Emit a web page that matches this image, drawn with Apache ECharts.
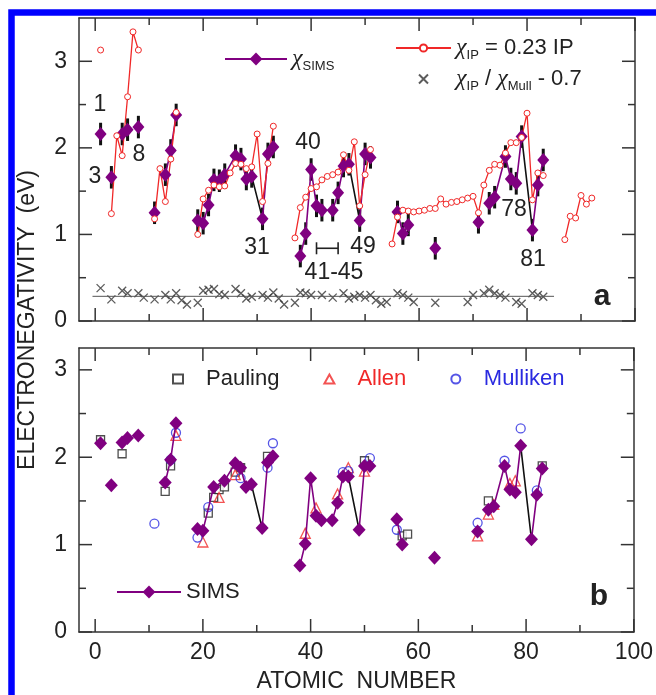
<!DOCTYPE html>
<html><head><meta charset="utf-8">
<script src="https://cdn.jsdelivr.net/npm/echarts@6/dist/echarts.min.js"></script>
<style>html,body{margin:0;padding:0;background:#fff;}#c{width:656px;height:695px;}</style>
</head><body><div id="c"></div>
<script>
// ---------- DATA ----------
// Panel a: SIMS electronegativity (atomic number, value, error)
const simsTopZ = [1,3,5,6,8,11,13,14,15,19,20,21,22,23,24,26,27,28,29,31,32,33,38,39,40,41,42,44,45,46,47,49,50,51,56,57,58,63,71,73,74,76,77,78,79,81,82,83];
const simsTopV = [2.16,1.66,2.16,2.21,2.24,1.25,1.69,1.97,2.38,1.16,1.13,1.34,1.63,1.62,1.69,1.91,1.87,1.64,1.67,1.18,1.93,2.01,0.75,1.01,1.75,1.33,1.28,1.28,1.48,1.79,1.81,1.16,1.93,1.89,1.26,1.01,1.11,0.84,1.14,1.36,1.43,1.90,1.64,1.59,2.13,1.05,1.57,1.86];
const simsTopErr = [0.13,0.13,0.13,0.13,0.13,0.13,0.13,0.13,0.13,0.13,0.13,0.13,0.13,0.13,0.13,0.13,0.13,0.13,0.13,0.13,0.13,0.13,0.13,0.13,0.13,0.13,0.13,0.13,0.13,0.13,0.13,0.13,0.13,0.13,0.13,0.13,0.13,0.13,0.13,0.13,0.13,0.13,0.13,0.13,0.13,0.13,0.13,0.13];
const simsTopPurpleSegs = [[1],[3],[5],[6],[8],[11],[13,14,15],[19,20,21,22,23,24,26,27,28,29],[31,32,33],[38,39,40,41,42,44,45,46,47],[49,50,51],[56,57,58],[63],[71],[73,74,76,77,78,79],[81,82,83]];
const simsBlackSegs = [[29,31],[47,49],[79,81]];

// chi_IP = 0.23 IP
const ipZ = [1, 3,4,5,6,7,8, 11,12,13,14,15, 19,20,21,22,23,24,25,26,27,28,29,30,31,32,33, 37,38,39,40,41,42,43,44,45,46,47,48,49,50,51, 55,56,57,58,59,60,61,62,63,64,65,66,67,68,69,70,71,72,73,74,75,76,77,78,79,80,81,82,83, 87,88,89,90,91,92];
const ipV = [3.13, 1.24,2.14,1.91,2.59,3.34,3.13, 1.18,1.76,1.38,1.87,2.41, 1.00,1.41,1.51,1.57,1.55,1.56,1.71,1.82,1.81,1.76,1.78,2.16,1.38,1.82,2.25, 0.96,1.31,1.43,1.53,1.55,1.63,1.67,1.69,1.72,1.92,1.74,2.07,1.33,1.69,1.98, 0.89,1.20,1.28,1.27,1.26,1.27,1.28,1.30,1.30,1.41,1.35,1.37,1.38,1.40,1.42,1.44,1.25,1.57,1.74,1.81,1.80,1.94,2.06,2.06,2.12,2.40,1.40,1.71,1.68, 0.94,1.21,1.19,1.45,1.35,1.42];

// chi_IP / chi_Mull - 0.7
const crossZ = [1,3,5,6,8,9,11,13,14,15,16,17,19,20,21,22,23,24,26,27,28,29,31,32,33,34,35,37,38,39,40,42,44,46,47,48,49,50,51,52,53,54,56,57,58,59,63,69,70,72,73,74,75,76,78,79,81,82,83];
const crossV = [0.38,0.25,0.35,0.32,0.32,0.27,0.25,0.30,0.25,0.32,0.24,0.19,0.21,0.35,0.36,0.37,0.31,0.30,0.37,0.32,0.26,0.28,0.30,0.27,0.33,0.26,0.19,0.21,0.33,0.32,0.30,0.30,0.27,0.32,0.26,0.28,0.30,0.27,0.30,0.24,0.20,0.22,0.32,0.30,0.27,0.22,0.21,0.22,0.30,0.32,0.36,0.32,0.30,0.27,0.22,0.20,0.32,0.30,0.28];
const fitZ = [-0.5, 85];
const fitV = [0.285, 0.285];
const bracketRange = [41, 45, 0.84];

// Panel b
const simsBotZ = [1,3,5,6,8,13,14,15,19,20,22,24,26,27,28,29,31,32,33,38,39,40,41,42,44,45,46,47,49,50,51,56,57,63,71,73,74,76,77,78,79,81,82,83];
const simsBotV = [2.16,1.68,2.17,2.22,2.25,1.71,1.97,2.39,1.18,1.16,1.66,1.73,1.93,1.88,1.66,1.69,1.19,1.94,2.01,0.76,1.01,1.76,1.33,1.28,1.28,1.48,1.78,1.78,1.17,1.90,1.90,1.29,1.00,0.85,1.15,1.40,1.44,1.90,1.63,1.60,2.13,1.06,1.57,1.87];
const simsBotPurpleSegs = [[1],[3],[5],[6],[8],[13,14,15],[19,20,22,24,26,27,28,29],[31,32,33],[38,39,40,41,42,44,45,46,47],[49,50,51],[56,57],[63],[71],[73,74,76,77,78,79],[81,82,83]];

const paulingZ = [1,5,13,14,21,22,23,24,26,27,32,50,57,58,73,83];
const paulingV = [2.20,2.04,1.61,1.90,1.36,1.54,1.63,1.66,1.83,1.88,2.01,1.96,1.10,1.12,1.50,1.90];
const allenZ = [15,20,23,26,39,41,45,47,50,71,73,74,77,78];
const allenV = [2.25,1.03,1.54,1.80,1.13,1.42,1.58,1.88,1.84,1.10,1.35,1.46,1.70,1.73];
const mullikenZ = [11,14,15,19,21,27,32,33,46,47,51,56,71,76,79,82];
const mullikenV = [1.24,1.97,2.28,1.08,1.43,1.76,1.88,2.16,1.83,1.84,1.99,1.17,1.25,1.96,2.33,1.62];

// axis ticks / labels
const xMajor = [0,20,40,60,80,100];
const xMinor = [10,30,50,70,90];
const yMajor = [0,1,2,3];
const yMinor = [0.5,1.5,2.5];

// ---------- HELPERS ----------
const FONT = "'Liberation Sans', Arial, sans-serif";
const AX = '#333';
const PURPLE = '#800080';
const RED = '#f02828';
const BLUE = '#2a2ae0';
function val(zs, vs, z){ return vs[zs.indexOf(z)]; }
function segData(segs, zs, vs){
  const out = [];
  segs.forEach((s,k)=>{ if(k>0) out.push(['-','-']); s.forEach(z=>out.push([z, val(zs,vs,z)])); });
  return out;
}
function gapData(zs, vs){
  const out = [];
  zs.forEach((z,i)=>{ if(i>0 && z - zs[i-1] > 1) out.push(['-','-']); out.push([z, vs[i]]); });
  return out;
}
function pairs(zs, vs){ return zs.map((z,i)=>[z, vs[i]]); }

function mkX(gi, pos, labels){
  const a = {type:'value', gridIndex:gi, position:pos, min:-3, max:100,
    axisLine:{show:true, onZero:false, lineStyle:{color:AX, width:1.5}}, splitLine:{show:false},
    axisTick:{show:false}, axisLabel:{show:false}};
  if(labels){
    a.axisLabel = {show:true, customValues:xMajor, fontSize:23, color:'#222', fontFamily:FONT, margin:9};
    a.name = 'ATOMIC  NUMBER'; a.nameLocation = 'middle'; a.nameGap = 38;
    a.nameTextStyle = {fontSize:23, color:'#222', fontFamily:FONT};
  }
  return a;
}
function mkY(gi, pos, max, labels){
  const a = {type:'value', gridIndex:gi, position:pos, min:0, max:max,
    axisLine:{show:true, onZero:false, lineStyle:{color:AX, width:1.5}}, splitLine:{show:false},
    axisTick:{show:false}, axisLabel:{show:false}};
  if(labels){ a.axisLabel = {show:true, customValues:yMajor, fontSize:23, color:'#222', fontFamily:FONT, margin:12}; }
  return a;
}
// inward ticks on all four sides of a panel, placed through the axes' own scales
function tickSeries(xi, yi){
  const data = [];
  xMajor.forEach(v=>data.push([v,0,13])); xMinor.forEach(v=>data.push([v,0,7]));
  yMajor.forEach(v=>data.push([v,1,13])); yMinor.forEach(v=>data.push([v,1,7]));
  return {type:'custom', xAxisIndex:xi, yAxisIndex:yi, silent:true, clip:false, z:5, data:data,
    renderItem:(p, api)=>{
      const cs = p.coordSys; const v = api.value(0), d = api.value(1), L = api.value(2);
      const st = {stroke:AX, lineWidth:1.5};
      if(d===0){
        const x = api.coord([v, 0])[0];
        return {type:'group', children:[
          {type:'line', shape:{x1:x, y1:cs.y+cs.height, x2:x, y2:cs.y+cs.height-L}, style:st},
          {type:'line', shape:{x1:x, y1:cs.y, x2:x, y2:cs.y+L}, style:st}]};
      }
      const y = api.coord([0, v])[1];
      return {type:'group', children:[
        {type:'line', shape:{x1:cs.x, y1:y, x2:cs.x+L, y2:y}, style:st},
        {type:'line', shape:{x1:cs.x+cs.width, y1:y, x2:cs.x+cs.width-L, y2:y}, style:st}]};
    }};
}

const rich = {
  c:{fontSize:24, fontFamily:"'Liberation Serif', serif", fontStyle:'italic', color:'#222', lineHeight:28, verticalAlign:'middle'},
  s:{fontSize:13, fontFamily:FONT, color:'#222', lineHeight:13, verticalAlign:'bottom'},
  t:{fontSize:22, fontFamily:FONT, color:'#222', lineHeight:28, verticalAlign:'middle'}
};

const chart = echarts.init(document.getElementById('c'), null, {renderer:'canvas'});

const errBars = {
  type:'custom', xAxisIndex:0, yAxisIndex:0, silent:true, encode:{x:0, y:1},
  data: simsTopZ.map((z,i)=>[z, simsTopV[i], simsTopErr[i]]),
  renderItem:(p, api)=>{
    const z = api.value(0), v = api.value(1), e = api.value(2);
    const a = api.coord([z, v-e]), b = api.coord([z, v+e]);
    return {type:'line', shape:{x1:a[0], y1:a[1], x2:b[0], y2:b[1]}, style:{stroke:'#111', lineWidth:3}};
  }
};
const bracket = {
  type:'custom', xAxisIndex:0, yAxisIndex:0, silent:true, encode:{x:[0,1], y:2},
  data:[bracketRange],
  renderItem:(p, api)=>{
    const a = api.coord([api.value(0), api.value(2)]), b = api.coord([api.value(1), api.value(2)]);
    const st = {stroke:'#222', lineWidth:1.6};
    return {type:'group', children:[
      {type:'line', shape:{x1:a[0], y1:a[1], x2:b[0], y2:b[1]}, style:st},
      {type:'line', shape:{x1:a[0], y1:a[1]-6, x2:a[0], y2:a[1]+6}, style:st},
      {type:'line', shape:{x1:b[0], y1:b[1]-6, x2:b[0], y2:b[1]+6}, style:st}
    ]};
  }
};

function txt(t, x, y, extra){
  return Object.assign({type:'text', x:x, y:y, silent:true, style:{text:t, fontSize:23, fontFamily:FONT, fill:'#222', align:'center', verticalAlign:'middle'}}, extra||{});
}

const option = {
  animation:false,
  backgroundColor:'#fff',
  grid:[
    {left:79, top:18, width:556, height:303, show:false},
    {left:79, top:348, width:556, height:284, show:false}
  ],
  xAxis:[ mkX(0,'bottom',false), mkX(0,'top',false), mkX(1,'bottom',true), mkX(1,'top',false) ],
  yAxis:[ mkY(0,'left',3.5,true), mkY(0,'right',3.5,false), mkY(1,'left',3.25,true), mkY(1,'right',3.25,false) ],
  legend:[
    {data:['χSIMS'], left:224, top:47, padding:0, itemWidth:62, itemHeight:16, selectedMode:false,
     formatter:()=>'{c|χ}{s|SIMS}', textStyle:{rich:rich}},
    {data:['χIP','cross'], orient:'vertical', left:395, top:36, padding:0, itemWidth:55, itemHeight:9, itemGap:5, selectedMode:false,
     formatter:(n)=> n==='χIP' ? '{c|χ}{s|IP}{t| = 0.23 IP}' : '{c|χ}{s|IP}{t| / }{c|χ}{s|Mull}{t| - 0.7}', textStyle:{rich:rich}},
    {data:[{name:'Pauling', textStyle:{color:'#222'}},{name:'Allen', textStyle:{color:RED}},{name:'Mulliken', textStyle:{color:BLUE}}],
     left:172, top:368, padding:0, itemWidth:10, itemHeight:9, itemGap:44, selectedMode:false,
     textStyle:{fontSize:22, fontFamily:FONT, padding:[0,0,0,18]}},
    {data:['SIMS'], left:116, top:581, padding:0, itemWidth:64, itemHeight:16, selectedMode:false,
     textStyle:{fontSize:22, fontFamily:FONT, color:'#222'}}
  ],
  series:[
    // ---- panel a ----
    tickSeries(0,0),
    {type:'line', name:'fit', xAxisIndex:0, yAxisIndex:0, data:pairs(fitZ, fitV), symbol:'none', silent:true,
     lineStyle:{color:'#555', width:1}},
    {type:'scatter', name:'cross', xAxisIndex:0, yAxisIndex:0, data:pairs(crossZ, crossV),
     symbol:'path://M0,0L10,10M10,0L0,10', symbolSize:8,
     itemStyle:{color:'rgba(0,0,0,0)', borderColor:'#333', borderWidth:1.3}},
    {type:'line', name:'blackA', xAxisIndex:0, yAxisIndex:0, data:segData(simsBlackSegs, simsTopZ, simsTopV), symbol:'none',
     connectNulls:false, lineStyle:{color:'#111', width:1.6}},
    errBars,
    {type:'line', name:'χSIMS', xAxisIndex:0, yAxisIndex:0, data:segData(simsTopPurpleSegs, simsTopZ, simsTopV),
     connectNulls:false, symbol:'diamond', symbolSize:[12,14], showSymbol:true, showAllSymbol:true,
     itemStyle:{color:PURPLE}, lineStyle:{color:PURPLE, width:1.6}},
    {type:'line', name:'χIP', xAxisIndex:0, yAxisIndex:0, data:gapData(ipZ, ipV),
     connectNulls:false, symbol:'circle', symbolSize:6, showSymbol:true, showAllSymbol:true,
     itemStyle:{color:'#fff', borderColor:RED, borderWidth:1}, lineStyle:{color:RED, width:1.3}},
    bracket,
    // ---- panel b ----
    tickSeries(2,2),
    {type:'line', name:'SIMS', xAxisIndex:2, yAxisIndex:2, data:segData(simsBotPurpleSegs, simsBotZ, simsBotV),
     connectNulls:false, symbol:'diamond', symbolSize:[13,14], showSymbol:true, showAllSymbol:true,
     itemStyle:{color:PURPLE}, lineStyle:{color:PURPLE, width:1.6}},
    {type:'line', name:'blackB', xAxisIndex:2, yAxisIndex:2, data:segData(simsBlackSegs, simsBotZ, simsBotV), symbol:'none',
     connectNulls:false, lineStyle:{color:'#111', width:1.6}},
    {type:'scatter', name:'Pauling', xAxisIndex:2, yAxisIndex:2, data:pairs(paulingZ, paulingV), symbol:'rect', symbolSize:8,
     itemStyle:{color:'#fff', borderColor:'#222', borderWidth:1.3}},
    {type:'scatter', name:'Allen', xAxisIndex:2, yAxisIndex:2, data:pairs(allenZ, allenV), symbol:'triangle', symbolSize:10,
     itemStyle:{color:'rgba(255,255,255,0)', borderColor:RED, borderWidth:1.3}},
    {type:'scatter', name:'Mulliken', xAxisIndex:2, yAxisIndex:2, data:pairs(mullikenZ, mullikenV), symbol:'circle', symbolSize:9,
     itemStyle:{color:'rgba(255,255,255,0)', borderColor:BLUE, borderWidth:1.3}}
  ],
  graphic:[
    {type:'polyline', silent:true, shape:{points:[[11.5,695],[11.5,12.5],[656,12.5]]}, style:{stroke:'#0000ff', lineWidth:6.5, fill:null, lineJoin:'miter'}},
    txt('ELECTRONEGATIVITY  (eV)', 28, 320, {rotation:Math.PI/2}),
    txt('1', 100, 105), txt('3', 95, 177), txt('8', 139, 155), txt('31', 257, 248), txt('40', 308, 143),
    txt('41-45', 334, 273), txt('49', 363, 247), txt('78', 514, 210), txt('81', 533, 260),
    {type:'text', x:602, y:297, silent:true, style:{text:'a', fontSize:30, fontWeight:'bold', fontFamily:FONT, fill:'#222', align:'center', verticalAlign:'middle'}},
    {type:'text', x:599, y:597, silent:true, style:{text:'b', fontSize:30, fontWeight:'bold', fontFamily:FONT, fill:'#222', align:'center', verticalAlign:'middle'}}
  ]
};
chart.setOption(option);
</script></body></html>
